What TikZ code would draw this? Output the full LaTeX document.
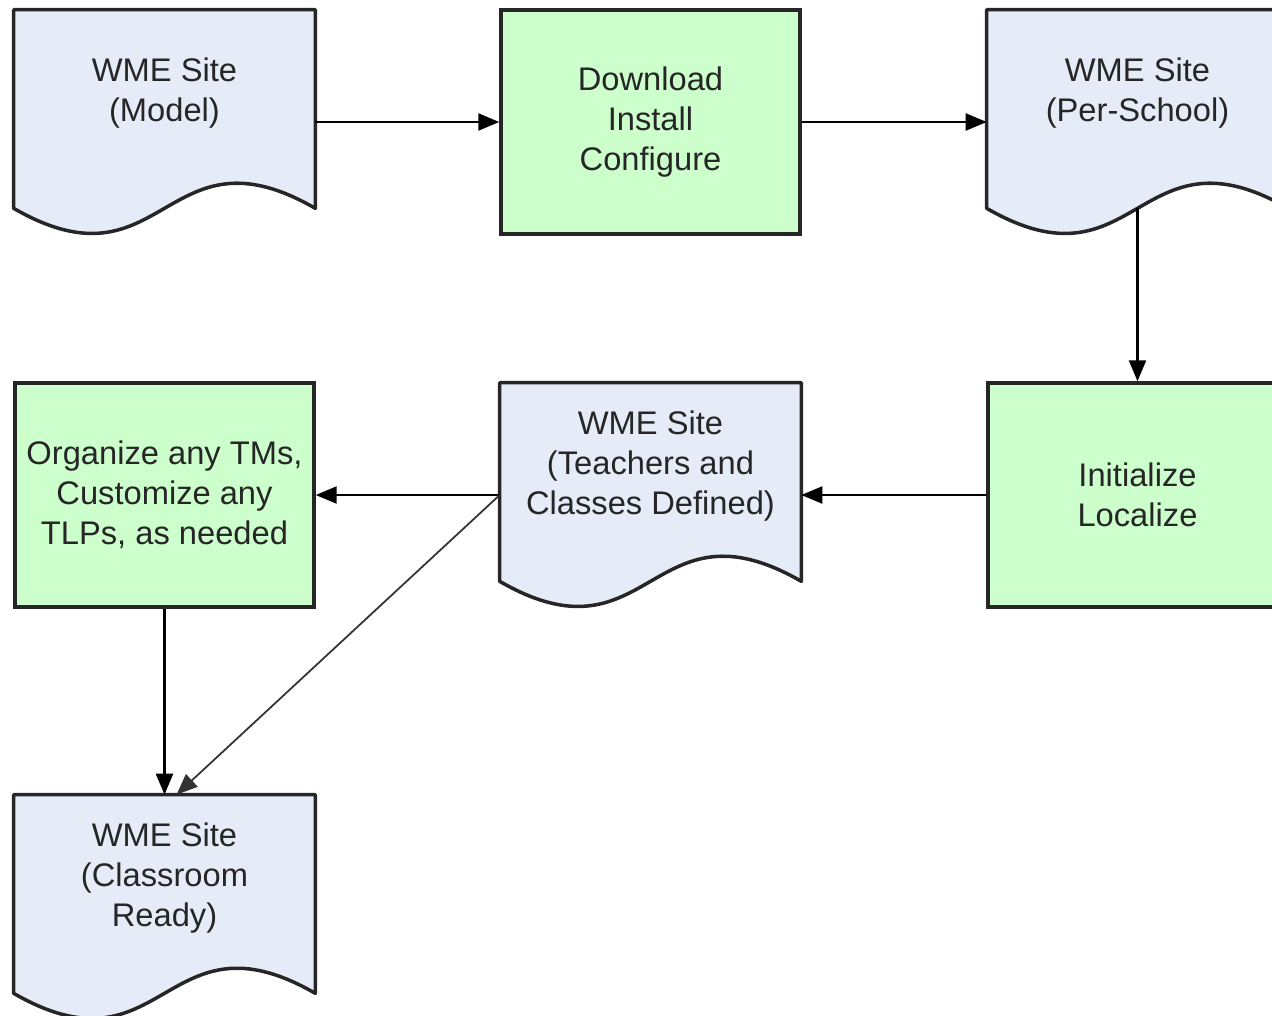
\documentclass[tikz,border=0pt]{standalone}
\usepackage{fontspec}
\setmainfont{Liberation Sans}
\usepackage{xcolor}
\usepackage{tikz}
\usetikzlibrary{calc, arrows.meta, backgrounds}

\definecolor{docblue}{HTML}{E6ECF7}
\definecolor{procgreen}{HTML}{CCFFCC}

\begin{document}
\begin{tikzpicture}[x=0.02cm, y=-0.02cm, >={Triangle[length=0.42cm, width=0.34cm]},
    every node/.style={font=\fontsize{18.6}{22.8}\selectfont, align=center, text=black!85},
    docbox/.style={minimum width=6.02cm, minimum height=3.32cm, inner sep=0pt},
    procbox/.style={draw=black!85, line width=2pt, fill=procgreen, minimum width=5.98cm, minimum height=4.48cm, inner sep=0pt},
    wire/.style={->, line width=1.3pt}]
    \useasboundingbox (0,0) rectangle (1272,1015);

    % top row
    \node[docbox] (model) at (164.5,93) {WME Site\\(Model)};
    \node[procbox] (dl) at (650.5,122) {Download\\Install\\Configure};
    \node[docbox] (school) at (1137.5,93) {WME Site\\(Per-School)};

    % middle row
    \node[procbox] (init) at (1137.5,495) {Initialize\\Localize};
    \node[docbox] (teach) at (650.5,466) {WME Site\\(Teachers and\\Classes Defined)};
    \node[procbox] (org) at (164.5,495) {Organize any TMs,\\Customize any\\TLPs, as needed};

    % bottom
    \node[docbox] (ready) at (164.5,878) {WME Site\\(Classroom\\Ready)};

    % document outlines with wavy bottom
    \begin{scope}[on background layer]
        \foreach \d in {model, school, teach, ready}
            \filldraw[fill=docblue, draw=black!85, line width=2pt, line join=round]
                (\d.north west) -- ($(\d.south west)+(0,32)$)
                .. controls ($(\d.south)+(0,119)$) and ($(\d.south)+(0,-55)$) .. ($(\d.south east)+(0,32)$)
                -- (\d.north east) -- cycle;
    \end{scope}

    \coordinate (tout) at (teach.west |- org.east);

    \draw[wire] (dl.west -| model.east) -- (dl.west);
    \draw[wire] (dl.east) -- (dl.east -| school.west);
    \draw[wire] ($(school.south)+(0,32)$) -- (init.north);
    \draw[wire] (init.west) -- (init.west -| teach.east);
    \draw[wire] (tout) -- (org.east);
    \draw[wire] (org.south) -- (ready.north);
    \draw[->, line width=1pt, black!80] (tout) -- ([xshift=0.24cm]ready.north);
\end{tikzpicture}
\end{document}
